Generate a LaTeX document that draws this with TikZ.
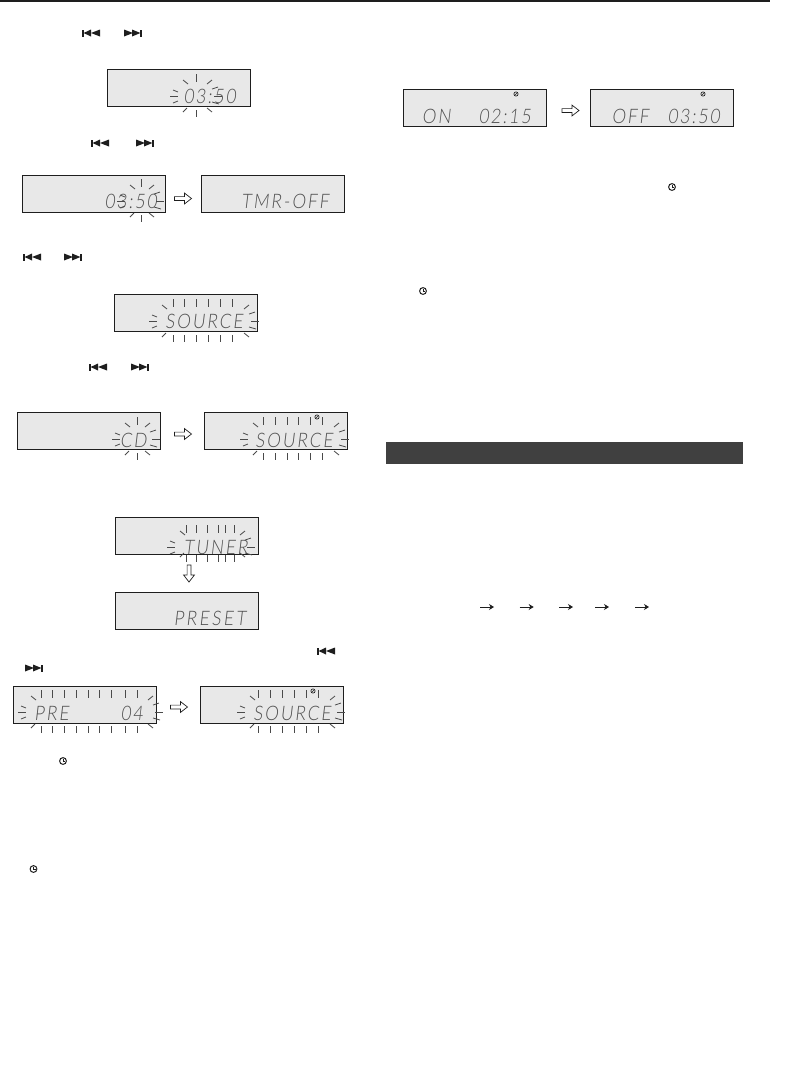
\documentclass[tikz,border=0pt]{standalone}
\usepackage{fontspec}
\usepackage{xcolor}
\usepackage{tikz}
\usetikzlibrary{arrows.meta,calc}
\newfontfamily\lcdbase[FakeSlant=0.12,FakeStretch=0.86,LetterSpace=10]{Lato Light}
\newcommand{\lcdfont}{\lcdbase\fontsize{20}{20}\selectfont}
\definecolor{panel}{HTML}{E8E8E8}
\definecolor{rimink}{HTML}{1E1E1E}
\definecolor{rayink}{HTML}{4A4A4A}
\definecolor{lcdink}{HTML}{505050}
\definecolor{barink}{HTML}{404040}
\newcommand{\skipprev}[2]{%
  \fill[rimink] (#1,#2-3.5) rectangle (#1+1.6,#2+3.5);
  \fill[rimink] (#1+1.6,#2) -- (#1+9,#2-3.5) -- (#1+9,#2+3.5) -- cycle;
  \fill[rimink] (#1+9,#2) -- (#1+18,#2-3.5) -- (#1+18,#2+3.5) -- cycle;}
\newcommand{\skipnext}[2]{%
  \fill[rimink] (#1,#2-3.5) -- (#1+9,#2) -- (#1,#2+3.5) -- cycle;
  \fill[rimink] (#1+8,#2-3.5) -- (#1+16.4,#2) -- (#1+8,#2+3.5) -- cycle;
  \fill[rimink] (#1+16.4,#2-3.5) rectangle (#1+18,#2+3.5);}
\newcommand{\clockicon}[2]{%
  \draw[line width=1pt,rimink] (#1,#2) circle (3.4);
  \draw[line width=.7pt,rimink] (#1,#2-2.2) -- (#1,#2) -- (#1+2,#2);}
\newcommand{\timermark}[2]{%
  \draw[line width=.7pt,rimink] (#1,#2) circle (2.1);
  \draw[line width=.5pt,rimink] (#1-1,#2+1) -- (#1+1,#2-1);}
\newcommand{\burst}[5]{%
  \foreach \x in {#4} {
    \draw[ray] (\x,#3-22) -- (\x,#3-14);
    \draw[ray] (\x,#3+#5) -- (\x,#3+#5+7);
  }
  \draw[ray] (#1+5,#3-16) -- (#1+10,#3-12);
  \draw[ray] (#2-6,#3-12) -- (#2-1,#3-16);
  \draw[ray] (#1+5,#3+#5+2) -- (#1+9,#3+#5-2);
  \draw[ray] (#2-6,#3+#5-2) -- (#2-1,#3+#5+2);
  \draw[ray] (#1-8,#3) -- (#1,#3);
  \draw[ray] (#1-5,#3-6) -- (#1,#3-4);
  \draw[ray] (#1-5,#3+7) -- (#1,#3+5);
  \draw[ray] (#2+1,#3) -- (#2+9,#3);
  \draw[ray] (#2-1,#3-7) -- (#2+5,#3-9);
  \draw[ray] (#2-1,#3+6) -- (#2+6,#3+8);}

\begin{document}
\begin{tikzpicture}[x=1pt,y=-1pt,
  lcd/.style={draw=rimink,fill=panel,line width=1pt,minimum width=143pt,
              minimum height=37pt,inner sep=0pt},
  lcdtxt/.style={anchor=base east,inner sep=0pt,font=\lcdfont,text=lcdink},
  ray/.style={draw=rayink,line width=0.8pt},
  hollowh/.style={draw=rimink,line width=0.7pt,fill=white,line join=miter,to path={
    ($(\tikztotarget)+(-17,-1.9)$) -- ($(\tikztotarget)+(-7,-1.9)$) -- ($(\tikztotarget)+(-7,-5.4)$)
    -- (\tikztotarget) -- ($(\tikztotarget)+(-7,5.4)$) -- ($(\tikztotarget)+(-7,1.9)$)
    -- ($(\tikztotarget)+(-17,1.9)$) -- cycle}},
  hollowv/.style={draw=rimink,line width=0.7pt,fill=white,line join=miter,to path={
    ($(\tikztotarget)+(-1.9,-17)$) -- ($(\tikztotarget)+(-1.9,-7)$) -- ($(\tikztotarget)+(-5.4,-7)$)
    -- (\tikztotarget) -- ($(\tikztotarget)+(5.4,-7)$) -- ($(\tikztotarget)+(1.9,-7)$)
    -- ($(\tikztotarget)+(1.9,-17)$) -- cycle}},
  seqarr/.style={-{Stealth[length=5pt,width=6pt]},line width=0.7pt,draw=rimink}]
  \useasboundingbox (0,0) rectangle (790,1085);
  \fill[rimink] (0,0) rectangle (770,2.2);
  \fill[barink] (386,442) rectangle (743,464);

  \node[lcd] (lcdA) at (178.5,87.5) {};
  \node[lcd] (lcdB) at (93.5,193.5) {};
  \node[lcd] (lcdC) at (272.5,193.5) {};
  \node[lcd] (lcdD) at (185.5,313) {};
  \node[lcd] (lcdE) at (88.5,431) {};
  \node[lcd] (lcdF) at (275.5,431) {};
  \node[lcd] (lcdG) at (186.5,536) {};
  \node[lcd] (lcdH) at (186.5,611) {};
  \node[lcd] (lcdI) at (84.5,705) {};
  \node[lcd] (lcdJ) at (271.5,705) {};
  \node[lcd] (lcdK) at (475,107.5) {};
  \node[lcd] (lcdL) at (662,107.5) {};

  \node[lcdtxt] (txtA) at (236,103) {03:50};
  \node[lcdtxt] (txtB) at (157,208) {03:50};
  \node[lcdtxt] (txtC) at (329,208) {TMR-OFF};
  \node[lcdtxt] (txtD) at (243,328) {SOURCE};
  \node[lcdtxt] (txtE) at (147,447) {CD};
  \node[lcdtxt] (txtF) at (333,447) {SOURCE};
  \node[lcdtxt] (txtG) at (248,554) {TUNER};
  \node[lcdtxt] (txtH) at (246,625) {P\kern2.5pt R\kern2.5pt E\kern2.5pt S\kern2.5pt E\kern2.5pt T};
  \node[lcdtxt] (txtIa) at (69,720) {PRE};
  \node[lcdtxt] (txtIb) at (143,720) {04};
  \node[lcdtxt] (txtJ) at (331,720) {SOURCE};
  \node[lcdtxt] (txtKa) at (451,123) {ON};
  \node[lcdtxt] (txtKb) at (531,123) {02:15};
  \node[lcdtxt] (txtLa) at (649,123) {OFF};
  \node[lcdtxt] (txtLb) at (720,123) {03:50};

  \burst{178}{213}{96}{196}{14}
  \burst{125}{155}{201}{141}{14}
  \burst{157}{250}{321}{173,184,196,208,220,232}{14}
  \burst{120}{151}{439}{137}{14}
  \burst{248}{340}{439}{263,275,287,298,310,322}{14}
  \burst{175}{246}{547}{186,196,207,218,225,234}{8}
  \burst{26}{154}{712}{41,52,64,76,88,99,111,125,137}{14}
  \burst{245}{336}{712}{258.5,270.5,282.5,294,306,318}{14}

  \draw[hollowh] ([yshift=-5pt]lcdB.east) to ([shift={(-9pt,-5pt)}]lcdC.west);
  \draw[hollowh] ([yshift=-3pt]lcdE.east) to ([shift={(-12pt,-3pt)}]lcdF.west);
  \draw[hollowh] ([yshift=-2pt]lcdI.east) to ([shift={(-12pt,-2pt)}]lcdJ.west);
  \draw[hollowh] ([yshift=-3pt]lcdK.east) to ([shift={(-11pt,-3pt)}]lcdL.west);
  \draw[hollowv] ([xshift=2.5pt]lcdG.south) to ([shift={(2.5pt,10pt)}]lcdH.north);

  \foreach \n/\xa in {a/480,b/519.7,c/559,d/595,e/635} {
    \coordinate (seq\n s) at (\xa,607);
    \coordinate (seq\n e) at (\xa+14,607);
    \draw[seqarr] (seq\n s) -- (seq\n e);
  }

  \skipprev{82}{33} \skipnext{124}{33}
  \skipprev{91}{143} \skipnext{136}{143}
  \skipprev{23}{257} \skipnext{64}{257}
  \skipprev{89}{367} \skipnext{131}{367}
  \skipprev{317}{651} \skipnext{25}{668}

  \clockicon{672}{187}
  \clockicon{423}{291}
  \clockicon{63}{761}
  \clockicon{33.5}{869}

  \timermark{516}{94}
  \timermark{703}{94}
  \timermark{317}{417}
  \timermark{313}{691}
\end{tikzpicture}
\end{document}
